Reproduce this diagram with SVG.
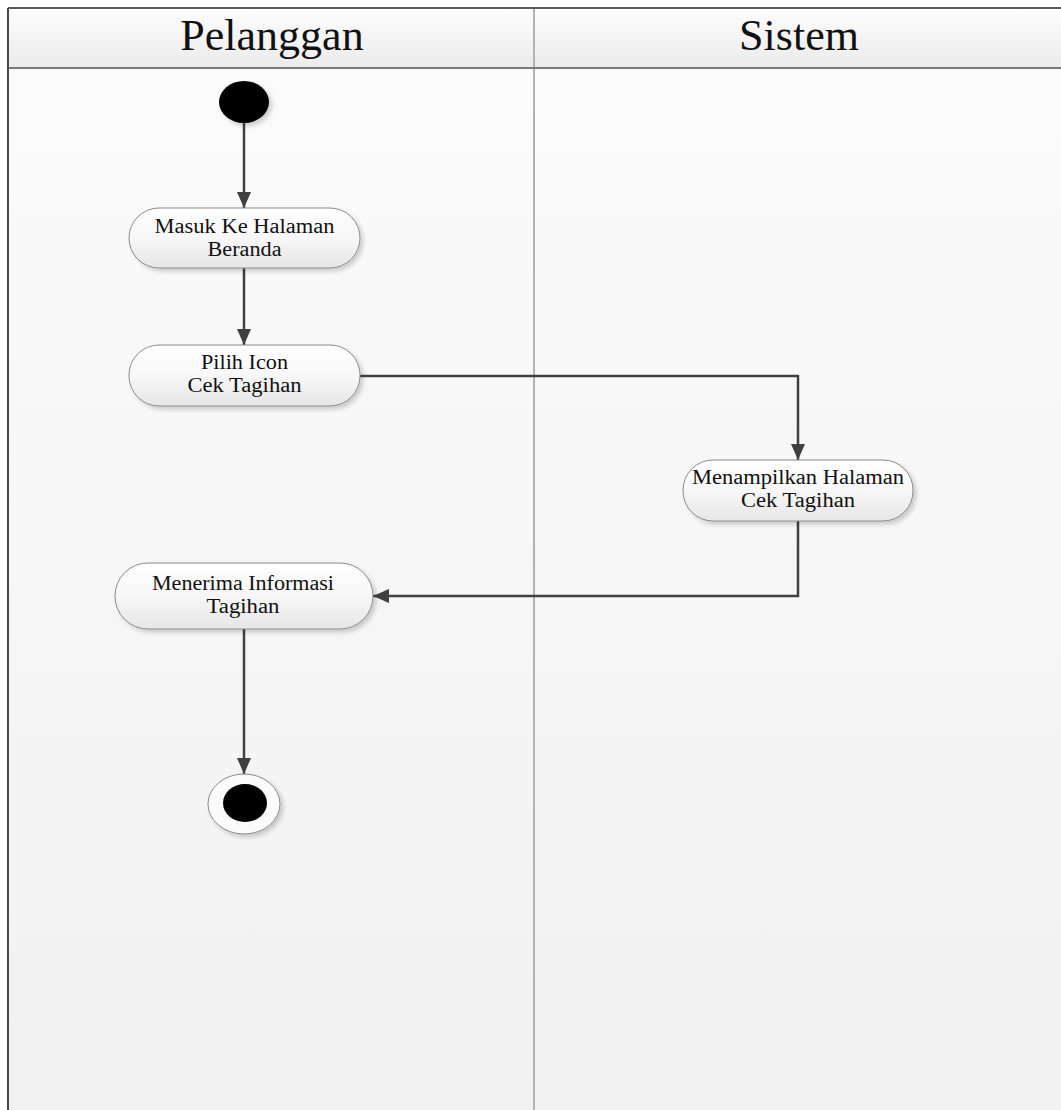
<svg xmlns="http://www.w3.org/2000/svg" width="1061" height="1110" viewBox="0 0 1061 1110">
  <style>
    .lane-title { font-family: "Liberation Serif", "Times New Roman", serif; font-size: 44px; fill: #111; text-anchor: middle; }
    .label { font-family: "Liberation Serif", "Times New Roman", serif; font-size: 20px; fill: #111; text-anchor: middle; }
    .action { fill: url(#actionFill); stroke: #8a8a8a; stroke-width: 1; filter: url(#shadow); }
    .flow { fill: none; stroke: #404040; stroke-width: 2.5; marker-end: url(#arrow); }
  </style>
  <defs>
    <linearGradient id="bodyFill" x1="0" y1="0" x2="0" y2="1">
      <stop offset="0" stop-color="#fbfbfb"/>
      <stop offset="1" stop-color="#f1f1f1"/>
    </linearGradient>
    <linearGradient id="headFill" x1="0" y1="0" x2="0" y2="1">
      <stop offset="0" stop-color="#fdfdfd"/>
      <stop offset="1" stop-color="#ebebeb"/>
    </linearGradient>
    <linearGradient id="actionFill" x1="0" y1="0" x2="0" y2="1">
      <stop offset="0" stop-color="#ffffff"/>
      <stop offset="0.5" stop-color="#f7f7f7"/>
      <stop offset="1" stop-color="#e6e6e6"/>
    </linearGradient>
    <filter id="shadow" x="-10%" y="-20%" width="130%" height="160%">
      <feDropShadow dx="3" dy="3" stdDeviation="2" flood-color="#000" flood-opacity="0.18"/>
    </filter>
    <marker id="arrow" viewBox="0 0 16 14" refX="16" refY="7" markerWidth="16" markerHeight="14" markerUnits="userSpaceOnUse" orient="auto">
      <path d="M0,0 L16,7 L0,14 Z" fill="#404040"/>
    </marker>
  </defs>

  <!-- swimlane frame -->
  <g id="lanes">
    <rect x="8" y="68" width="1053" height="1042" fill="url(#bodyFill)"/>
    <rect x="8" y="8" width="1053" height="60" fill="url(#headFill)"/>
    <line x1="534" y1="8" x2="534" y2="1110" stroke="#b3b3b3" stroke-width="2"/>
    <line x1="8" y1="68" x2="1061" y2="68" stroke="#7a7a7a" stroke-width="2"/>
    <line x1="8" y1="8" x2="1061" y2="8" stroke="#5a5a5a" stroke-width="2"/>
    <line x1="8" y1="8" x2="8" y2="1110" stroke="#4a4a4a" stroke-width="2"/>
    <text class="lane-title" x="272" y="50">Pelanggan</text>
    <text class="lane-title" x="799" y="50">Sistem</text>
  </g>

  <!-- control flows -->
  <g id="connectors">
    <path class="flow" d="M244,122 L244,208"/>
    <path class="flow" d="M244,268 L244,345"/>
    <path class="flow" d="M360,376 L798,376 L798,460"/>
    <path class="flow" d="M798,521 L798,596 L373,596"/>
    <path class="flow" d="M244,629 L244,774"/>
  </g>

  <g id="start">
    <ellipse cx="244" cy="102" rx="25" ry="21" fill="#000" filter="url(#shadow)"/>
  </g>

  <g id="masuk-beranda">
    <rect class="action" x="129" y="208" width="231" height="60" rx="30" ry="30"/>
    <text class="label" x="244.5" y="233" textLength="180" lengthAdjust="spacingAndGlyphs">Masuk Ke Halaman</text>
    <text class="label" x="244.5" y="256" textLength="74" lengthAdjust="spacingAndGlyphs">Beranda</text>
  </g>

  <g id="pilih-icon">
    <rect class="action" x="129" y="345" width="231" height="61" rx="30" ry="30"/>
    <text class="label" x="244.5" y="369" textLength="87" lengthAdjust="spacingAndGlyphs">Pilih Icon</text>
    <text class="label" x="244.5" y="392" textLength="114" lengthAdjust="spacingAndGlyphs">Cek Tagihan</text>
  </g>

  <g id="tampil-cek-tagihan">
    <rect class="action" x="683" y="460" width="230" height="61" rx="30" ry="30"/>
    <text class="label" x="798" y="484" textLength="212" lengthAdjust="spacingAndGlyphs">Menampilkan Halaman</text>
    <text class="label" x="798" y="507" textLength="114" lengthAdjust="spacingAndGlyphs">Cek Tagihan</text>
  </g>

  <g id="terima-informasi">
    <rect class="action" x="115" y="563" width="258" height="66" rx="33" ry="33"/>
    <text class="label" x="243" y="590" textLength="182" lengthAdjust="spacingAndGlyphs">Menerima Informasi</text>
    <text class="label" x="243" y="613" textLength="73" lengthAdjust="spacingAndGlyphs">Tagihan</text>
  </g>

  <g id="end">
    <ellipse cx="244" cy="804" rx="36" ry="30" fill="#fbfbfb" stroke="#8a8a8a" stroke-width="1" filter="url(#shadow)"/>
    <ellipse cx="245" cy="803" rx="22" ry="19" fill="#000"/>
  </g>
</svg>
